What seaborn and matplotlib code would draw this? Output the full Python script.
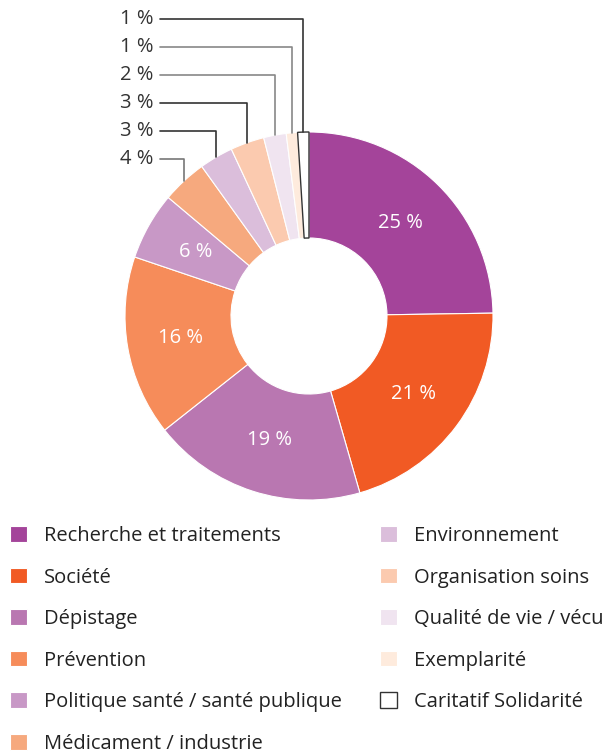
import numpy as np
import matplotlib.pyplot as plt
import seaborn as sns

# Data
labels = ['Recherche et traitements', 'Société', 'Dépistage', 'Prévention',
          'Politique santé / santé publique', 'Médicament / industrie',
          'Environnement', 'Organisation soins', 'Qualité de vie / vécu',
          'Exemplarité', 'Caritatif Solidarité']
values = [25, 21, 19, 16, 6, 4, 3, 3, 2, 1, 1]
colors = ['#A4449A', '#F15A24', '#B977B1', '#F68C5A', '#C898C6', '#F6A97E',
          '#DBBEDB', '#FBCAAF', '#F0E4F0', '#FEEBDD', '#FFFFFF']

sns.set_theme(style='white')
plt.rcParams['font.family'] = ['Open Sans', 'DejaVu Sans']

fig = plt.figure(figsize=(6.11, 7.55), dpi=100)
ax = fig.add_axes([0, 0, 1, 1])

cx, cy, R, W = 309, 439, 184, 106
inner = [f'{v} %' if v >= 6 else '' for v in values]
wedges, texts = ax.pie(values, colors=colors, startangle=90, counterclock=False,
                       radius=R, center=(cx, cy), labels=inner,
                       labeldistance=0.71,
                       wedgeprops=dict(width=W, edgecolor='white', linewidth=0.8),
                       textprops=dict(color='white', fontsize=14.5))
for t in texts:
    t.set_ha('center')
    t.set_va('center')
wedges[-1].set_edgecolor('#333333')
wedges[-1].set_linewidth(1.0)

# leader lines for the small slices
total = sum(values)
cum = np.cumsum([0] + values[:-1])
label_y = {5: 159, 6: 131, 7: 103, 8: 75, 9: 47, 10: 19}
line_col = {5: '#777777', 6: '#333333', 7: '#333333', 8: '#888888', 9: '#888888', 10: '#333333'}
for i, ypix in label_y.items():
    theta = np.deg2rad(90 - (cum[i] + values[i] / 2) / total * 360)
    px = cx + R * np.cos(theta)
    py = cy + R * np.sin(theta)
    ly = 755 - ypix
    ax.plot([160, px, px], [ly, ly, py], color=line_col[i], lw=1.2)
    ax.text(153, ly, f'{values[i]} %', ha='right', va='center',
            fontsize=14.5, color='#333333')

ax.set_xlim(0, 611)
ax.set_ylim(0, 755)
ax.set_aspect('equal')
ax.axis('off')

common = dict(loc='upper left', frameon=False, borderpad=0, borderaxespad=0,
              handlelength=0.82, handleheight=0.82, handletextpad=0.88,
              labelspacing=1.07, prop={'size': 14.5}, labelcolor='#222222')
fig.legend(wedges[:6], labels[:6], bbox_to_anchor=(10 / 611, 1 - 526 / 755), **common)
fig.legend(wedges[6:], labels[6:], bbox_to_anchor=(380 / 611, 1 - 526 / 755), **common)

fig.savefig('out.png', dpi=100)
